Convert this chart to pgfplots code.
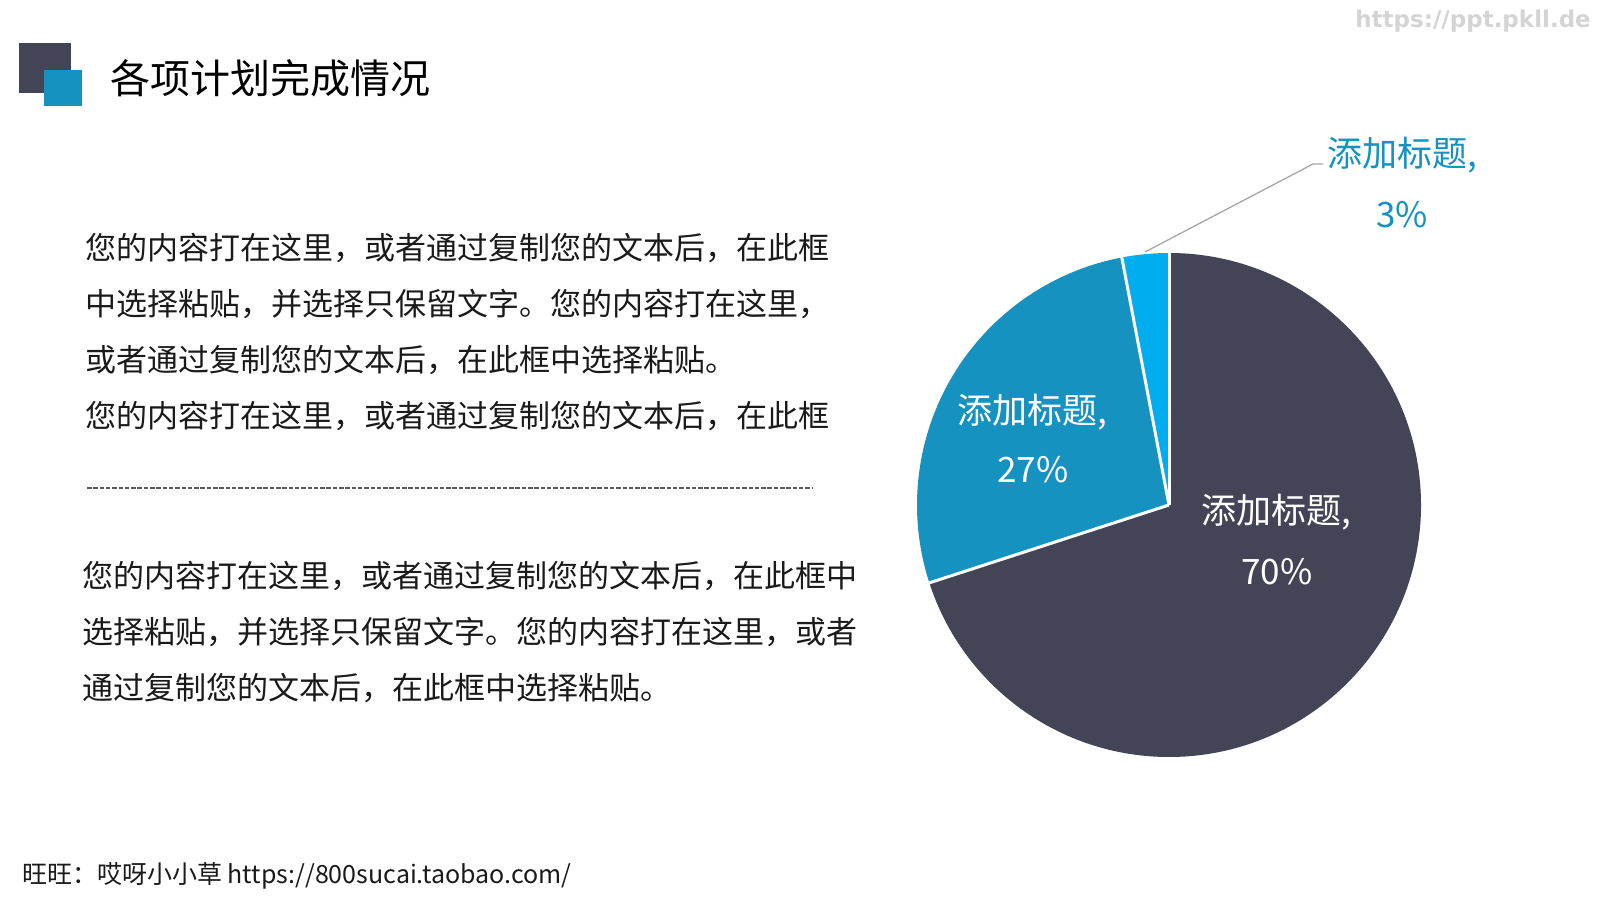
\documentclass[border=0pt]{standalone}
\usepackage{pgfplots}
\pgfplotsset{compat=1.18}
\usepackage{pgfplotstable}
\usepackage{fontspec}
\setmainfont{Noto Sans CJK SC}
\newfontfamily\wmfont{DejaVu Sans}
\definecolor{darkc}{HTML}{434456}
\definecolor{bluec}{HTML}{1592C0}
\definecolor{cyanc}{HTML}{00ADEF}
\definecolor{leadc}{HTML}{A6A6A6}
\definecolor{txtc}{HTML}{1A1A1A}
\definecolor{wmc}{HTML}{D4D4D4}
\definecolor{dashc}{HTML}{5A5A5A}

\pgfplotstableread{
label value
A 70
B 27
C 3
}\piedata

\begin{document}
\begin{tikzpicture}[x=1pt,y=1pt]
\useasboundingbox[fill=white] (0,0) rectangle (1600,900);
\pgfplotstablegetelem{0}{value}\of\piedata\edef\vA{\pgfplotsretval}%
\pgfplotstablegetelem{1}{value}\of\piedata\edef\vB{\pgfplotsretval}%
\pgfplotstablegetelem{2}{value}\of\piedata\edef\vC{\pgfplotsretval}%
\pgfmathsetmacro\aA{90}%
\pgfmathsetmacro\aB{\aA-3.6*\vA}%
\pgfmathsetmacro\aC{\aB-3.6*\vB}%
\pgfmathsetmacro\aD{\aC-3.6*\vC}%
% icon
\fill[darkc] (19,900-43) rectangle (71,900-93);
\fill[bluec] (44,900-70) rectangle (82,900-106);
\node[anchor=west,inner sep=0,text=black] at (110,900-78) {\fontsize{40}{40}\selectfont 各项计划完成情况};
% watermark
\node[anchor=east,inner sep=0,text=wmc] at (1591,900-21) {\wmfont\bfseries\fontsize{23}{23}\selectfont https://ppt.pkll.de};
% body text
\begin{scope}[every node/.style={anchor=west,inner sep=0,text=txtc}]
\node at (85,900-248) {\fontsize{31}{31}\selectfont 您的内容打在这里，或者通过复制您的文本后，在此框};
\node at (85,900-304) {\fontsize{31}{31}\selectfont 中选择粘贴，并选择只保留文字。您的内容打在这里，};
\node at (85,900-360) {\fontsize{31}{31}\selectfont 或者通过复制您的文本后，在此框中选择粘贴。};
\node at (85,900-416) {\fontsize{31}{31}\selectfont 您的内容打在这里，或者通过复制您的文本后，在此框};
\node at (82,900-576) {\fontsize{31}{31}\selectfont 您的内容打在这里，或者通过复制您的文本后，在此框中};
\node at (82,900-632) {\fontsize{31}{31}\selectfont 选择粘贴，并选择只保留文字。您的内容打在这里，或者};
\node at (82,900-688) {\fontsize{31}{31}\selectfont 通过复制您的文本后，在此框中选择粘贴。};
\node at (22,900-876) {\fontsize{25}{25}\selectfont 旺旺：哎呀小小草 https://800sucai.taobao.com/};
\end{scope}
\draw[dashc, line width=2pt, dash pattern=on 4.5pt off 1.8pt] (87,900-488) -- (813,900-488);
% pie
\begin{axis}[hide axis, scale only axis, width=504pt, height=504pt,
  xmin=-1, xmax=1, ymin=-1, ymax=1, clip=false,
  at={(1169pt,395pt)}, anchor=origin]
\fill[darkc] (axis cs:0,0) -- ++(\aA:252pt) arc[start angle=\aA, end angle=\aB, radius=252pt] -- cycle;
\fill[bluec] (axis cs:0,0) -- ++(\aB:252pt) arc[start angle=\aB, end angle=\aC, radius=252pt] -- cycle;
\fill[cyanc] (axis cs:0,0) -- ++(\aC:252pt) arc[start angle=\aC, end angle=\aD, radius=252pt] -- cycle;
\draw[white, line width=3pt] (axis cs:0,0) -- ++(\aA:253pt);
\draw[white, line width=3pt] (axis cs:0,0) -- ++(\aB:253pt);
\draw[white, line width=3pt] (axis cs:0,0) -- ++(\aC:253pt);
\end{axis}
% labels
\draw[leadc, line width=1.3pt] (1145,900-252) -- (1313,900-164) -- (1323,900-164);
\begin{scope}[every node/.style={inner sep=0}]
\node[text=bluec] at (1402,900-155) {\fontsize{35}{35}\selectfont 添加标题,};
\node[text=bluec] at (1402,900-215) {\fontsize{35}{35}\selectfont 3\%};
\node[text=white] at (1032,900-412) {\fontsize{35}{35}\selectfont 添加标题,};
\node[text=white] at (1033,900-470) {\fontsize{35}{35}\selectfont 27\%};
\node[text=white] at (1276,900-512) {\fontsize{35}{35}\selectfont 添加标题,};
\node[text=white] at (1277,900-572) {\fontsize{35}{35}\selectfont 70\%};
\end{scope}
\end{tikzpicture}
\end{document}
